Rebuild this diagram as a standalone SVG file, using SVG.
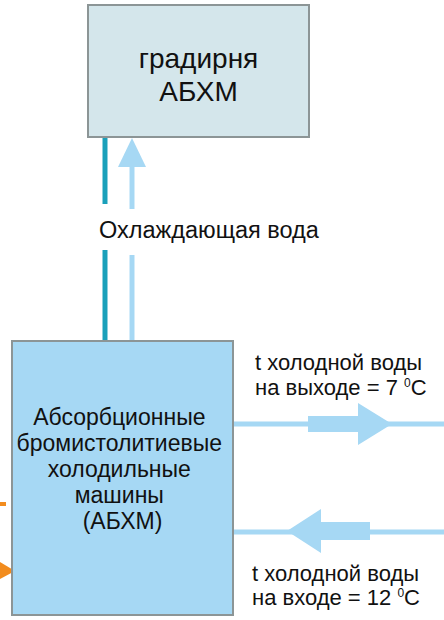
<svg xmlns="http://www.w3.org/2000/svg" width="444" height="620" viewBox="0 0 444 620">
<style>
text{font-family:"Liberation Sans",Arial,sans-serif;fill:#111;}
.box{stroke:#8c9596;stroke-width:2;}
.lt{fill:#a6d8f4;}
.dk{stroke:#1aa0ba;stroke-width:5;fill:none;}
.lb{stroke:#a6d8f4;stroke-width:5;fill:none;}
.or{fill:#f28c1e;}
.sup{font-size:12px;}
</style>
<rect width="444" height="620" fill="#fff"/>
<g id="connectors">
<line class="dk" x1="105" y1="137" x2="105" y2="204"/>
<line class="dk" x1="105" y1="250" x2="105" y2="341"/>
<line class="lb" x1="132" y1="166" x2="132" y2="209"/>
<polygon class="lt" points="132,138 146,167 118,167"/>
<line class="lb" x1="132" y1="255" x2="132" y2="341"/>
<line class="lb" x1="233" y1="424" x2="444" y2="424"/>
<polygon class="lt" points="308,416 358,416 358,403 392,424 358,445 358,432 308,432"/>
<line class="lb" x1="233" y1="532" x2="444" y2="532"/>
<polygon class="lt" points="370,522 321,522 321,509 287,531 321,553 321,540 370,540"/>
<rect class="or" x="0" y="502" width="6" height="4"/>
<polygon class="or" points="0,562 15,571 0,579"/>
</g>
<g id="gradirnya">
<rect class="box" x="88" y="5" width="221" height="132" fill="#d4e6eb"/>
<text x="198.5" y="68" font-size="28" text-anchor="middle">градирня</text>
<text x="198.5" y="101" font-size="28" text-anchor="middle">АБХМ</text>
</g>
<g id="abhm">
<rect class="box" x="12" y="341" width="221" height="274" fill="#a6d8f4"/>
<text font-size="23" text-anchor="middle">
<tspan x="122.5" y="425">Абсорбционные</tspan>
<tspan x="122.5" y="451">бромистолитиевые</tspan>
<tspan x="122.5" y="477">холодильные</tspan>
<tspan x="122.5" y="503">машины</tspan>
<tspan x="122.5" y="529">(АБХМ)</tspan>
</text>
</g>
<g id="labels">
<text x="99" y="238" font-size="23.5">Охлаждающая вода</text>
<text x="255" y="370" font-size="22">t холодной воды</text>
<text x="255" y="395" font-size="22">на выходе = 7 <tspan class="sup" dy="-8">0</tspan><tspan dy="8">C</tspan></text>
<text x="252" y="581" font-size="22">t холодной воды</text>
<text x="252" y="605" font-size="22">на входе = 12 <tspan class="sup" dy="-8">0</tspan><tspan dy="8">C</tspan></text>
</g>
</svg>
